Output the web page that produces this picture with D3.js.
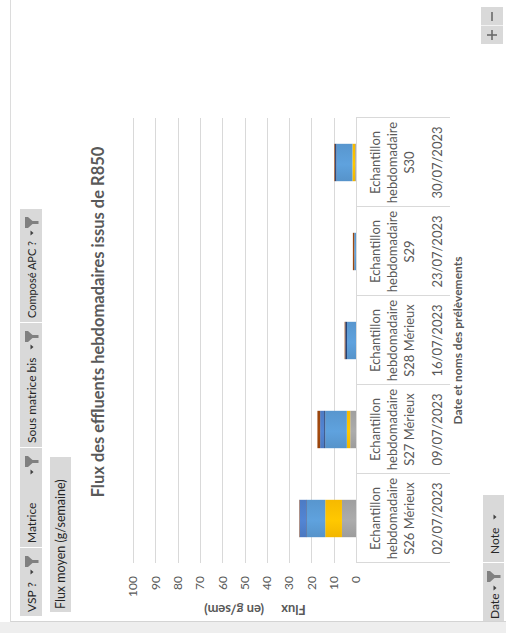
<!DOCTYPE html>
<html>
<head>
<meta charset="utf-8">
<script src="https://cdn.jsdelivr.net/npm/d3@7"></script>
<style>
  html, body { margin: 0; padding: 0; background: #ffffff; }
  svg { display: block; font-family: Lato, "Open Sans", sans-serif; }
</style>
</head>
<body>
<svg id="chart" width="506" height="633"></svg>
<script>
// ---- Data -------------------------------------------------------------
const categories = ["S26", "S27", "S28", "S29", "S30"];
const sampleNames = [
  "Echantillon hebdomadaire S26 Mérieux",
  "Echantillon hebdomadaire S27 Mérieux",
  "Echantillon hebdomadaire S28 Mérieux",
  "Echantillon hebdomadaire S29",
  "Echantillon hebdomadaire S30"
];
const sampleDates = ["02/07/2023", "09/07/2023", "16/07/2023", "23/07/2023", "30/07/2023"];

// Weekly flux per compound group (g/week), stacked bottom to top
const gris      = [6.3, 2.6, 0.0, 0.0, 0.4];
const or        = [7.5, 1.5, 0.0, 0.0, 1.2];
const bleuClair = [8.2, 9.7, 4.0, 0.8, 7.2];
const bleuFonce = [0.3, 0.5, 0.8, 0.0, 0.6];
const bleu      = [3.0, 1.8, 0.0, 0.0, 0.0];
const brun      = [0.2, 1.2, 0.3, 0.6, 0.3];

const seriesKeys = ["gris", "or", "bleuClair", "bleuFonce", "bleu", "brun"];
const seriesValues = { gris, or, bleuClair, bleuFonce, bleu, brun };
const seriesColors = ["#A5A5A5", "#FFC000", "#5B9BD5", "#264478", "#4F7FCB", "#9E480E"];

const yTicks = [0, 10, 20, 30, 40, 50, 60, 70, 80, 90, 100];

const chartTitle = "Flux des effluents hebdomadaires issus de R850";
const yTitleParts = ["Flux", "(en g/sem)"];
const xTitle = "Date et noms des prélèvements";
const filterFields = ["VSP ?", "Matrice", "Sous matrice bis", "Composé APC ?"];
const valueField = "Flux moyen (g/semaine)";
const axisFields = ["Date", "Note"];

// ---- Layout (drawn in a landscape frame, then turned a quarter) -------
const W = 633, H = 506;
const svg = d3.select("#chart");
const g = svg.append("g").attr("transform", `translate(0,${W}) rotate(-90)`);

const plot = { left: 70, right: 515, top: 133, bottom: 356 };

const rows = categories.map((c, i) => {
  const r = { cat: c };
  seriesKeys.forEach(k => r[k] = seriesValues[k][i]);
  return r;
});

const x = d3.scaleBand().domain(categories).range([plot.left, plot.right]).paddingInner(0.58).paddingOuter(0.29);
const xCell = d3.scaleBand().domain(categories).range([plot.left, plot.right]).padding(0);
const y = d3.scaleLinear().domain([0, 100]).range([plot.bottom, plot.top]);

// Soft sheen on the fills
const defs = svg.append("defs");
seriesKeys.forEach((k, i) => {
  const c = d3.color(seriesColors[i]);
  const gr = defs.append("linearGradient").attr("id", "grad-" + k)
    .attr("x1", 0).attr("x2", 1).attr("y1", 0).attr("y2", 0);
  gr.append("stop").attr("offset", 0).attr("stop-color", c.darker(0.15));
  gr.append("stop").attr("offset", 0.45).attr("stop-color", c.brighter(0.12));
  gr.append("stop").attr("offset", 1).attr("stop-color", c.darker(0.1));
});

// ---- Chart frame --------------------------------------------------------
g.append("rect").attr("x", 0).attr("y", 0).attr("width", 11).attr("height", H).attr("fill", "#eeeeee");
g.append("line").attr("x1", 11.5).attr("x2", 11.5).attr("y1", 10).attr("y2", H).attr("stroke", "#d4d4d4");
g.append("line").attr("x1", 11.5).attr("x2", W).attr("y1", 10.5).attr("y2", 10.5).attr("stroke", "#dcdcdc");

// Zoom buttons
const zb = g.append("g");
zb.append("rect").attr("x", 589).attr("y", 481).attr("width", 37).attr("height", 22).attr("fill", "#d9d9d9");
zb.append("line").attr("x1", 607.5).attr("x2", 607.5).attr("y1", 481).attr("y2", 503).attr("stroke", "#f2f2f2");
zb.append("line").attr("x1", 593).attr("x2", 603).attr("y1", 492).attr("y2", 492).attr("stroke", "#6a6a6a").attr("stroke-width", 1.6);
zb.append("line").attr("x1", 598).attr("x2", 598).attr("y1", 487).attr("y2", 497).attr("stroke", "#6a6a6a").attr("stroke-width", 1.6);
zb.append("line").attr("x1", 612).attr("x2", 621).attr("y1", 492).attr("y2", 492).attr("stroke", "#6a6a6a").attr("stroke-width", 1.6);

// Field button helpers
function funnel(parent, fx, top) {
  parent.append("path")
    .attr("d", `M${fx},${top} h11 v3 l-4,4.5 v6 h-3 v-6 l-4,-4.5 z`)
    .attr("fill", "#808080");
}
function dropArrow(parent, cx, cy) {
  parent.append("path")
    .attr("d", `M${cx - 2.5},${cy - 1.5} h5 l-2.5,3 z`)
    .attr("fill", "#404040");
}
function fitText(sel, maxW) {
  const len = sel.node().getComputedTextLength();
  if (len > maxW) sel.attr("textLength", maxW).attr("lengthAdjust", "spacingAndGlyphs");
  return sel;
}

const filterRanges = [[17, 86], [86, 186], [186, 311], [311, 425]];
const fb = g.append("g");
filterFields.forEach((f, i) => {
  const [a, b] = filterRanges[i];
  fb.append("rect").attr("x", a).attr("y", 20).attr("width", b - a - 1).attr("height", 22).attr("fill", "#d9d9d9");
  const t = fb.append("text").attr("x", a + 4).attr("y", 35.5).attr("font-size", 12).attr("fill", "#262626").text(f);
  fitText(t, b - a - 37);
  funnel(fb, b - 20, 25);
  dropArrow(fb, b - 25, 32);
});

// Value field button
fb.append("rect").attr("x", 21).attr("y", 50).attr("width", 155).attr("height", 21).attr("fill", "#d9d9d9");
fb.append("text").attr("x", 24).attr("y", 65).attr("font-size", 12.5).attr("fill", "#262626").text(valueField);

// Axis field buttons
const ab = g.append("g");
ab.append("rect").attr("x", 12).attr("y", 483).attr("width", 58).attr("height", 21).attr("fill", "#d9d9d9");
ab.append("rect").attr("x", 71).attr("y", 483).attr("width", 67).attr("height", 21).attr("fill", "#d9d9d9");
ab.append("text").attr("x", 14).attr("y", 498.5).attr("font-size", 12).attr("fill", "#262626").text(axisFields[0]);
dropArrow(ab, 45, 495);
funnel(ab, 51, 487);
ab.append("text").attr("x", 79).attr("y", 498.5).attr("font-size", 12).attr("fill", "#262626").text(axisFields[1]);
dropArrow(ab, 116, 495);

// ---- Title --------------------------------------------------------------
g.append("text").attr("x", 311).attr("y", 104).attr("text-anchor", "middle")
  .attr("font-size", 16.5).attr("font-weight", 700).attr("fill", "#595959").text(chartTitle);

// ---- Gridlines and value axis ------------------------------------------
g.append("g").selectAll("line").data(yTicks.filter(t => t > 0)).join("line")
  .attr("x1", plot.left).attr("x2", plot.right)
  .attr("y1", d => Math.round(y(d)) + 0.5).attr("y2", d => Math.round(y(d)) + 0.5)
  .attr("stroke", "#d9d9d9");

const yAxis = g.append("g").attr("transform", `translate(${plot.left - 13},0)`)
  .call(d3.axisLeft(y).tickValues(yTicks).tickSize(0).tickPadding(0));
yAxis.select(".domain").remove();
yAxis.selectAll("text").attr("font-size", 12).attr("fill", "#595959").attr("font-family", "Lato, sans-serif");

const yt = g.append("text").attr("transform", `translate(28,255) rotate(-90)`)
  .attr("text-anchor", "middle").attr("font-size", 13).attr("font-weight", 700).attr("fill", "#595959");
yt.append("tspan").text(yTitleParts[0] + " ");
yt.append("tspan").attr("dx", 14).text(yTitleParts[1]);

// ---- Stacked bars -------------------------------------------------------
const stacked = d3.stack().keys(seriesKeys)(rows);
g.append("g").selectAll("g").data(stacked).join("g")
  .attr("fill", d => `url(#grad-${d.key})`)
  .selectAll("rect").data(d => d).join("rect")
  .attr("x", d => x(d.data.cat))
  .attr("width", x.bandwidth())
  .attr("y", d => y(d[1]))
  .attr("height", d => Math.max(0, y(d[0]) - y(d[1])));

// ---- Category axis with two-level label table ---------------------------
g.append("line").attr("x1", plot.left).attr("x2", plot.right)
  .attr("y1", plot.bottom + 0.5).attr("y2", plot.bottom + 0.5).attr("stroke", "#d9d9d9");

const bounds = categories.map(c => xCell(c)).concat([plot.right]);
g.append("g").selectAll("line").data(bounds).join("line")
  .attr("x1", d => Math.round(d) + 0.5).attr("x2", d => Math.round(d) + 0.5)
  .attr("y1", plot.bottom).attr("y2", 450)
  .attr("stroke", "#d9d9d9");

const labels = g.append("g").attr("font-size", 13).attr("fill", "#595959").attr("text-anchor", "middle");
function wrap(str, maxW) {
  const probe = labels.append("text").attr("visibility", "hidden");
  const words = str.split(" ");
  const lines = [];
  let cur = "";
  words.forEach(w => {
    const t = cur ? cur + " " + w : w;
    probe.text(t);
    if (cur && probe.node().getComputedTextLength() > maxW) { lines.push(cur); cur = w; }
    else cur = t;
  });
  if (cur) lines.push(cur);
  probe.remove();
  return lines;
}
categories.forEach((c, i) => {
  const cx = xCell(c) + xCell.bandwidth() / 2;
  wrap(sampleNames[i], xCell.bandwidth() - 8).forEach((ln, j) => {
    labels.append("text").attr("x", cx).attr("y", 380 + j * 17).text(ln);
  });
  labels.append("text").attr("x", cx).attr("y", 442).text(sampleDates[i]);
});

g.append("text").attr("x", (plot.left + plot.right) / 2).attr("y", 462)
  .attr("text-anchor", "middle").attr("font-size", 12).attr("font-weight", 700).attr("fill", "#595959")
  .text(xTitle);
</script>
</body>
</html>
